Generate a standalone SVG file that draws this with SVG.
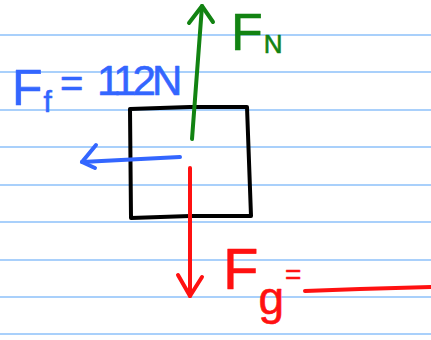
<svg xmlns="http://www.w3.org/2000/svg" width="431" height="340" viewBox="0 0 431 340">
  <style>
    .rule { stroke: #a9d0fb; stroke-width: 2; }
    .ink { fill: none; stroke-width: 4; stroke-linecap: round; stroke-linejoin: round; }
    .blk { stroke: #000000; }
    .grn { stroke: #128312; }
    .blu { stroke: #3366ff; }
    .red { stroke: #ff1111; }
    .lbl { font-family: "Liberation Sans", Arial, sans-serif; stroke-width: 0.6; stroke-linejoin: round; }
  </style>
  <rect x="0" y="0" width="431" height="340" fill="#ffffff"/>
  <g id="paper">
    <line class="rule" x1="0" y1="35" x2="431" y2="35"/>
    <line class="rule" x1="0" y1="72" x2="431" y2="72"/>
    <line class="rule" x1="0" y1="110" x2="431" y2="110"/>
    <line class="rule" x1="0" y1="147" x2="431" y2="147"/>
    <line class="rule" x1="0" y1="185" x2="431" y2="185"/>
    <line class="rule" x1="0" y1="222" x2="431" y2="222"/>
    <line class="rule" x1="0" y1="260" x2="431" y2="260"/>
    <line class="rule" x1="0" y1="297" x2="431" y2="297"/>
    <line class="rule" x1="0" y1="334" x2="431" y2="334"/>
  </g>
  <g id="block">
    <path class="ink blk" d="M130,109 L190,107 L247,107 L251,216 L190,216 L131,218 Z"/>
  </g>
  <g id="connectors">
    <g id="normal-force">
      <path class="ink grn" d="M192,139 L202,6"/>
      <path class="ink grn" d="M189,23 L202,6 L213,22"/>
    </g>
    <g id="friction-force">
      <path class="ink blu" d="M180,157 L82,162"/>
      <path class="ink blu" d="M96,145 L82,162 L95,168"/>
    </g>
    <g id="gravity-force">
      <path class="ink red" d="M190,168 L190,296"/>
      <path class="ink red" d="M178,275 L190,296 L202,277"/>
    </g>
  </g>
  <g id="label-fn">
    <text class="lbl" fill="#128312" stroke="#128312" x="231" y="50" font-size="52">F<tspan font-size="26" dx="1" dy="3">N</tspan></text>
  </g>
  <g id="label-ff">
    <text class="lbl" fill="#3366ff" stroke="#3366ff" x="12" y="105" font-size="50">F<tspan font-size="30" dx="1" dy="7">f</tspan><tspan font-size="40" x="60" y="97">=</tspan><tspan font-size="42" x="97" y="95" letter-spacing="-4">112N</tspan></text>
  </g>
  <g id="label-fg">
    <text class="lbl" fill="#ff1111" stroke="#ff1111" x="223" y="289" font-size="58">F<tspan font-size="46" dy="25">g</tspan><tspan font-size="28" dx="1" dy="-30">=</tspan></text>
    <path class="ink red" d="M305,291 L360,289 L431,287"/>
  </g>
</svg>
